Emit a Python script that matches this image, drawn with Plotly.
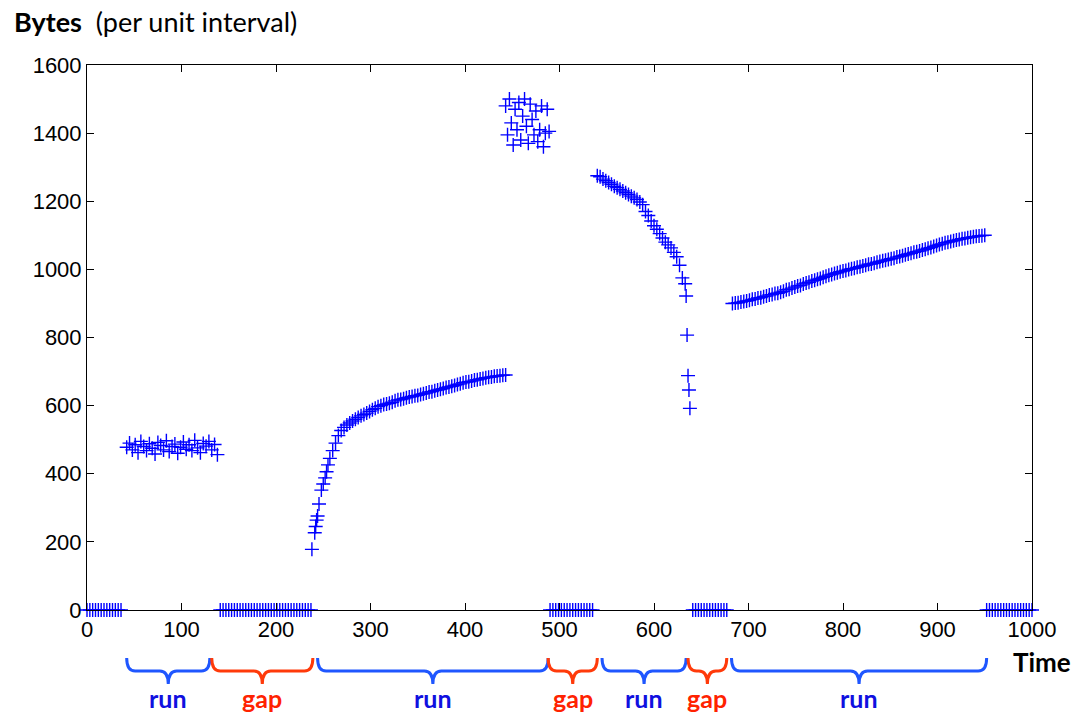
import plotly.graph_objects as go

# ---------------- data ----------------
# zero-valued intervals (gaps): sample times
gap_times_1 = list(range(0, 38, 3))
gap_times_2 = list(range(141, 238, 3))
gap_times_3 = list(range(490, 538, 3))
gap_times_4 = list(range(641, 679, 3))
gap_times_5 = list(range(952, 1001, 3))

run1_t = list(range(42, 139, 3))
run1_v = [478, 490, 470, 485, 462, 495, 480, 468, 488, 475,
          458, 492, 483, 470, 497, 465, 480, 487, 460, 478,
          493, 472, 485, 468, 498, 476, 462, 489, 481, 495,
          470, 486, 456]

run2_t = [238, 241, 242, 243, 244, 245.5, 248, 250, 252, 253.5, 255] + list(range(257, 445, 3))
run2_v = [178, 227, 245, 264, 276, 311, 352, 370, 388, 406, 426,
          445, 468, 490, 512, 527, 536, 543, 549, 555, 560,
          565, 570, 574, 578, 583, 588, 592, 597, 600, 603,
          605, 607, 610, 614, 617, 618, 620, 623, 625, 627,
          629, 630, 633, 635, 637, 640, 641, 644, 646, 648,
          650, 653, 655, 657, 659, 662, 664, 667, 669, 670,
          672, 675, 676, 678, 680, 682, 683, 684, 686, 687,
          688, 689, 690]

burst_t = list(range(443, 490, 2))
burst_v = [1480, 1395, 1500, 1430, 1365, 1470, 1410, 1490, 1380, 1450,
           1500, 1420, 1370, 1485, 1440, 1395, 1465, 1375, 1410, 1480,
           1360, 1400, 1470, 1405]

run3_t = list(range(540, 634, 3)) + [634, 635, 636, 637, 638]
run3_v = [1275, 1272, 1265, 1260, 1255, 1250, 1244, 1240, 1235, 1230,
          1225, 1220, 1215, 1210, 1205, 1198, 1190, 1170, 1158, 1142,
          1128, 1118, 1105, 1092, 1080, 1072, 1063, 1050, 1037, 1012,
          975, 958,
          922, 807, 688, 646, 592]

run4_t = list(range(683, 951, 3))
run4_v = [900, 901, 902, 904, 906, 907, 909, 912, 913, 916,
          917, 920, 922, 925, 926, 929, 930, 933, 936, 940,
          942, 945, 948, 951, 953, 957, 960, 962, 966, 968,
          971, 973, 977, 980, 983, 985, 988, 990, 993, 995,
          997, 1000, 1002, 1003, 1006, 1008, 1010, 1012, 1015, 1016,
          1018, 1021, 1023, 1025, 1027, 1029, 1031, 1033, 1036, 1038,
          1040, 1043, 1045, 1047, 1050, 1052, 1054, 1057, 1059, 1062,
          1064, 1067, 1070, 1073, 1075, 1078, 1080, 1082, 1084, 1086,
          1088, 1090, 1091, 1093, 1094, 1096, 1097, 1098, 1099, 1100]

# annotated intervals (start, end, label)
brace_start = [42, 132, 244, 488, 545, 636, 682]
brace_end = [130, 239, 488, 540, 634, 677, 952]
brace_label = ["run", "gap", "run", "gap", "run", "gap", "run"]

x_ticks = [0, 100, 200, 300, 400, 500, 600, 700, 800, 900, 1000]
y_ticks = [0, 200, 400, 600, 800, 1000, 1200, 1400, 1600]

# ---------------- assemble ----------------
gap_t = gap_times_1 + gap_times_2 + gap_times_3 + gap_times_4 + gap_times_5
all_t = gap_t + run1_t + run2_t + burst_t + run3_t + run4_t
all_v = ([0] * len(gap_t) + run1_v + run2_v + burst_v + run3_v + run4_v)

W, H = 1074, 715
ML, MR, MT, MB = 87, 42, 65, 105
PH = H - MT - MB
PW = W - ML - MR


def py(ypx):
    return (H - MB - ypx) / PH


def px(xpx):
    return (xpx - ML) / PW


fig = go.Figure()
fig.add_trace(go.Scatter(
    x=all_t, y=all_v, mode="markers", cliponaxis=False,
    marker=dict(symbol="cross-thin", size=10, color="#0000ff",
                line=dict(width=1.4, color="#0000ff")),
    showlegend=False, hoverinfo="x+y"))

BLUE_B, RED_B = "#1f56ff", "#ff3a0a"
BLUE_T, RED_T = "#1010e0", "#ff2200"
yt, yl, yb = py(658), py(671), py(684)
r = 9
for s, e, lab in zip(brace_start, brace_end, brace_label):
    m = (s + e) / 2
    path = (f"M {s},{yt} Q {s},{yl} {s + r},{yl} L {m - r},{yl} "
            f"Q {m},{yl} {m},{yb} Q {m},{yl} {m + r},{yl} "
            f"L {e - r},{yl} Q {e},{yl} {e},{yt}")
    col = BLUE_B if lab == "run" else RED_B
    fig.add_shape(type="path", path=path, xref="x", yref="paper",
                  line=dict(color=col, width=3))
    fig.add_annotation(x=m, y=py(698), xref="x", yref="paper", text=f"<b>{lab}</b>",
                       showarrow=False, xanchor="center", yanchor="middle",
                       font=dict(family="Lato", size=25,
                                 color=BLUE_T if lab == "run" else RED_T))

fig.add_annotation(x=px(1073), y=py(662), xref="paper", yref="paper",
                   text="<b>Time</b>", showarrow=False, xanchor="right", yanchor="middle",
                   font=dict(family="Lato", size=26, color="black"))
fig.add_annotation(x=px(12), y=py(22), xref="paper", yref="paper",
                   text="<b>Bytes</b>  <span style='font-size:27px'>(per unit interval)</span>",
                   showarrow=False, xanchor="left", yanchor="middle",
                   font=dict(family="Lato", size=27, color="black"))

axis_common = dict(showgrid=False, zeroline=False, showline=True, linecolor="black",
                   linewidth=1, mirror="ticks", ticks="inside", ticklen=7,
                   tickcolor="black", tickfont=dict(family="Liberation Sans", size=22, color="black"))
fig.update_layout(
    width=W, height=H, margin=dict(l=ML, r=MR, t=MT, b=MB),
    paper_bgcolor="white", plot_bgcolor="white",
    xaxis=dict(range=[0, 1000], tickvals=x_ticks, **axis_common),
    yaxis=dict(range=[0, 1600], tickvals=y_ticks, **axis_common),
)

fig.write_html("out.html", config={"displayModeBar": False},
               post_script="document.body.style.margin='0px';")
